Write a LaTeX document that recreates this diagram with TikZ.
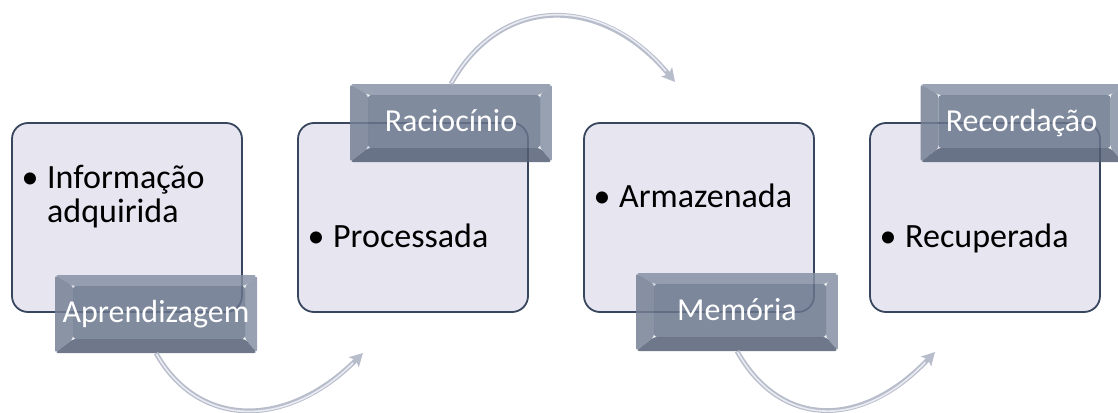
\documentclass[tikz,border=0pt]{standalone}
\usepackage{fontspec}
\setmainfont{Carlito}
\usetikzlibrary{arrows.meta}
\definecolor{boxfill}{RGB}{231,229,240}
\definecolor{boxline}{RGB}{56,70,94}
\definecolor{lface}{RGB}{104,117,140}
\definecolor{ltop}{RGB}{134,145,164}
\definecolor{lleft}{RGB}{116,128,148}
\definecolor{lright}{RGB}{132,143,162}
\definecolor{lbot}{RGB}{82,94,115}
\definecolor{arrowc}{RGB}{184,189,204}
\definecolor{arrowhi}{RGB}{234,236,242}
\tikzset{
  boxnode/.style={draw=boxline, line width=1.8pt, fill=boxfill, rounded corners=16pt,
    minimum width=230pt, minimum height=189pt, inner sep=0pt},
  labelnode/.style={minimum width=202pt, minimum height=78pt, inner sep=0pt, rounded corners=3pt,
    text=white, font=\fontsize{32}{38}\selectfont, text height=23pt, text depth=7pt,
    path picture={
      \coordinate (pNW) at (path picture bounding box.north west);
      \coordinate (pNE) at (path picture bounding box.north east);
      \coordinate (pSE) at (path picture bounding box.south east);
      \coordinate (pSW) at (path picture bounding box.south west);
      \coordinate (qNW) at ([xshift=18pt,yshift=-11pt]pNW);
      \coordinate (qNE) at ([xshift=-12pt,yshift=-11pt]pNE);
      \coordinate (qSE) at ([xshift=-12pt,yshift=14pt]pSE);
      \coordinate (qSW) at ([xshift=18pt,yshift=14pt]pSW);
      \fill[ltop, fill opacity=0.84] (pNW) -- (pNE) -- (qNE) -- (qNW) -- cycle;
      \fill[lright, fill opacity=0.84] (pNE) -- (pSE) -- (qSE) -- (qNE) -- cycle;
      \fill[lbot, fill opacity=0.84] (pSE) -- (pSW) -- (qSW) -- (qSE) -- cycle;
      \fill[lleft, fill opacity=0.84] (pSW) -- (pNW) -- (qNW) -- (qSW) -- cycle;
      \fill[lface, fill opacity=0.84] (qNW) -- (qNE) -- (qSE) -- (qSW) -- cycle;
    }},
  boxtext/.style={anchor=base west, inner sep=0pt, font=\fontsize{34}{40}\selectfont},
  flow/.style={line width=4.8pt, draw=arrowc, -{Stealth[length=13pt,width=14pt,inset=3pt]}},
  flowhi/.style={line width=1.6pt, draw=arrowhi, shorten >=14pt, shorten <=1pt},
}
\newcommand{\bul}{\makebox[16pt][c]{•}\hspace{9pt}}
\begin{document}
\begin{tikzpicture}[x=1pt,y=-1pt]
\useasboundingbox (0,0) rectangle (1118,412);
% boxes
\node[boxnode] (b1) at (127,217.5) {};
\node[boxnode] (b2) at (413,217.5) {};
\node[boxnode] (b3) at (699,217.5) {};
\node[boxnode] (b4) at (985,217.5) {};
% box texts
\node[boxtext] (t1) at (22,188) {\bul Informação};
\node[boxtext] (t1b) at (47,222) {adquirida};
\node[boxtext] (t2) at (308,247) {\bul Processada};
\node[boxtext] (t3) at (594,207) {\bul Armazenada};
\node[boxtext] (t4) at (880,247) {\bul Recuperada};
% labels
\node[labelnode] (l1) at (156,314) {Aprendizagem};
\node[labelnode] (l2) at (451,123) {Raciocínio};
\node[labelnode] (l3) at (737,312) {Memória};
\node[labelnode] (l4) at (1021.5,123) {Recordação};
% arrows
\coordinate (e1) at (363,353);
\coordinate (e2) at (675,82);
\coordinate (e3) at (935,352);
\draw[flow] (l1.south) .. controls (199,429) and (287,429) .. (e1);
\draw[flowhi] (l1.south) .. controls (199,429) and (287,429) .. (e1);
\draw[flow] (l2.north) .. controls (501,-6) and (602,-6) .. (e2);
\draw[flowhi] (l2.north) .. controls (501,-6) and (602,-6) .. (e2);
\draw[flow] (l3.south) .. controls (781,429) and (862,429) .. (e3);
\draw[flowhi] (l3.south) .. controls (781,429) and (862,429) .. (e3);
\end{tikzpicture}
\end{document}
